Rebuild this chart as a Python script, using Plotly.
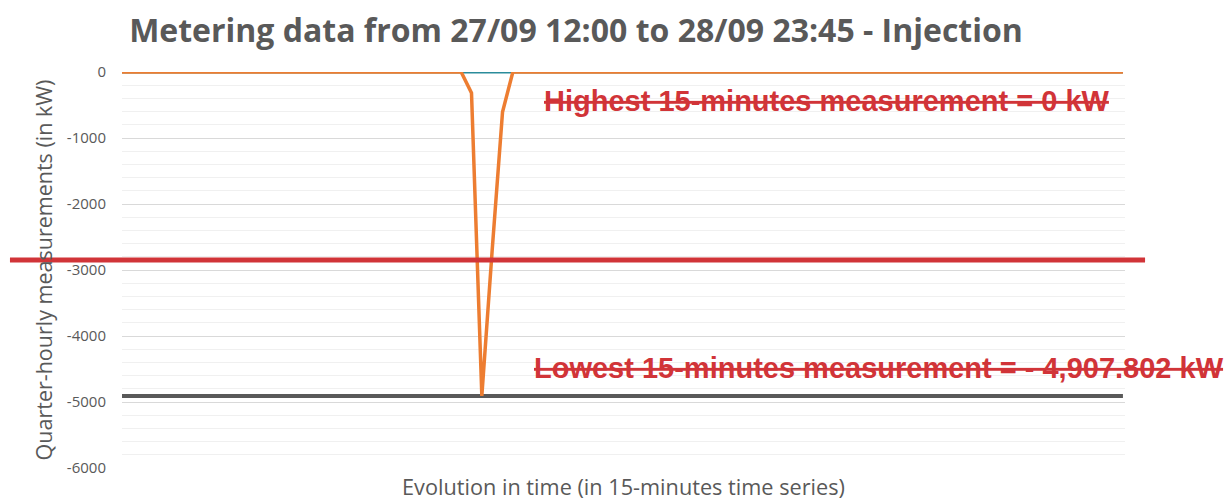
import plotly.graph_objects as go

# ---- data ----
n_points = 98
dip_start = 33
dip_values = [0, -318, -4907.802, -2700, -606, 0]
injection = [0.0] * n_points
for k, v in enumerate(dip_values):
    injection[dip_start + k] = v
baseline = [0.0] * n_points
lowest_value = -4907.802
highest_value = 0
x_index = list(range(n_points))

title_text = "Metering data from 27/09 12:00 to 28/09 23:45 - Injection"
y_title = "Quarter-hourly measurements (in kW)"
x_title = "Evolution in time (in 15-minutes time series)"
high_label = "Highest 15-minutes measurement = 0 kW"
low_label = "Lowest 15-minutes measurement = - 4,907.802 kW"
y_ticks = [0, -1000, -2000, -3000, -4000, -5000, -6000]

RED = "#d13438"
GREY = "#595959"

fig = go.Figure()
fig.add_trace(go.Scatter(x=x_index, y=[lowest_value] * n_points, mode="lines",
                         line=dict(color=GREY, width=4), hoverinfo="skip", showlegend=False))
fig.add_trace(go.Scatter(x=x_index, y=baseline, mode="lines",
                         line=dict(color="#2b8c9b", width=3), showlegend=False))
fig.add_trace(go.Scatter(x=x_index, y=injection, mode="lines",
                         line=dict(color="#ed7d31", width=3.5), showlegend=False))

# red decorative line across the figure
fig.add_shape(type="line", xref="paper", yref="y", x0=-0.1117, x1=1.02, y0=-2848, y1=-2848,
              line=dict(color=RED, width=5), layer="above")

fig.add_annotation(text="<b><s>" + high_label + "</s></b>", xref="paper", yref="y",
                   x=(827 - 122) / 1003, y=-440, showarrow=False, xanchor="center", yanchor="middle",
                   font=dict(family="Liberation Sans", size=29, color=RED))
fig.add_annotation(text="<b><s>" + low_label + "</s></b>", xref="paper", yref="y",
                   x=(879 - 122) / 1003, y=-4485, showarrow=False, xanchor="center", yanchor="middle",
                   font=dict(family="Liberation Sans", size=29, color=RED))

fig.update_layout(
    width=1232, height=499,
    margin=dict(l=114, r=115, t=64, b=39),
    paper_bgcolor="white", plot_bgcolor="white",
    title=dict(text="<b>" + title_text + "</b>", x=568 / 1232, xanchor="center", y=1 - 23 / 499,
               yanchor="middle", font=dict(family="Open Sans", size=32, color=GREY)),
    xaxis=dict(range=[0.2, n_points - 0.8], showticklabels=False, showgrid=False, zeroline=False,
               showline=False, ticks="",
               title=dict(text=x_title, standoff=11, font=dict(family="Open Sans", size=21.7, color=GREY))),
    yaxis=dict(range=[-6000, 0], tickvals=y_ticks, ticktext=[str(t) for t in y_ticks],
               showgrid=True, gridcolor="#d9d9d9", gridwidth=1, zeroline=False, showline=False,
               tickfont=dict(family="Open Sans", size=15, color=GREY), ticklabelstandoff=15,
               minor=dict(dtick=200, showgrid=True, gridcolor="#f0f0f0", gridwidth=1),
               title=dict(text=y_title, standoff=8, font=dict(family="Open Sans", size=21.5, color=GREY))),
)

fig.write_html("out.html")
